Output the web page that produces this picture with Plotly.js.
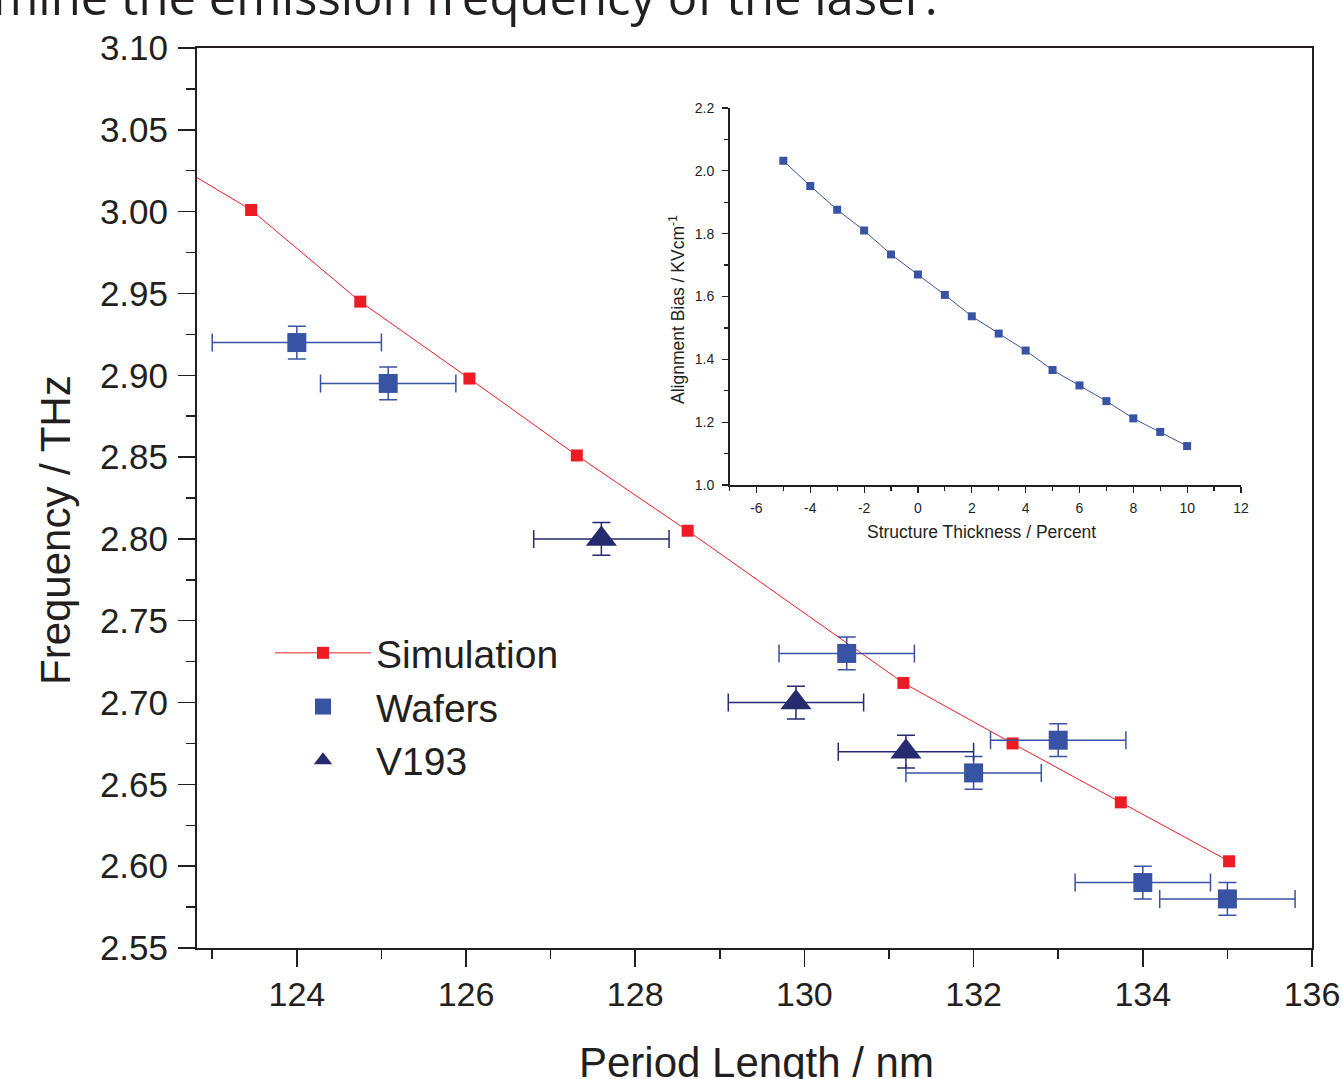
<!DOCTYPE html>
<html>
<head>
<meta charset="utf-8">
<script src="https://cdn.plot.ly/plotly-3.0.1.min.js"></script>
<style>html,body{margin:0;padding:0;background:#fff;}#chart{width:1342px;height:1079px;}</style>
</head>
<body>
<div id="chart"></div>
<script>
// ---- Main chart data ----
// Simulation (first point lies left of the visible axis range; line runs off the left edge)
const simX = [122.2, 123.46, 124.75, 126.04, 127.31, 128.62, 131.17, 132.46, 133.74, 135.02];
const simY = [3.040, 3.001, 2.945, 2.898, 2.851, 2.805, 2.712, 2.675, 2.639, 2.603];

const wafersX = [124.0, 125.08, 130.5, 132.0, 133.0, 134.0, 135.0];
const wafersY = [2.920, 2.895, 2.730, 2.657, 2.677, 2.590, 2.580];
const wafersXErr = [1.0, 0.8, 0.8, 0.8, 0.8, 0.8, 0.8];
const wafersYErr = [0.01, 0.01, 0.01, 0.01, 0.01, 0.01, 0.01];

const v193X = [127.6, 129.9, 131.2];
const v193Y = [2.800, 2.700, 2.670];
const v193XErr = [0.8, 0.8, 0.8];
const v193YErr = [0.01, 0.01, 0.01];

// ---- Inset data ----
const thicknessX = [-5, -4, -3, -2, -1, 0, 1, 2, 3, 4, 5, 6, 7, 8, 9, 10];
const biasY = [2.032, 1.952, 1.876, 1.810, 1.734, 1.670, 1.605, 1.537, 1.482, 1.428, 1.366, 1.317, 1.267, 1.212, 1.169, 1.124];

// ---- Tick labels ----
const insetXTickVals = [-6, -4, -2, 0, 2, 4, 6, 8, 10, 12];
const insetXTickText = ['-6', '-4', '-2', '0', '2', '4', '6', '8', '10', '12'];

// ---- Text ----
const mainXTitle = 'Period Length / nm';
const mainYTitle = 'Frequency / THz';
const insetXTitle = 'Structure Thickness / Percent';
const insetYTitle = 'Alignment Bias / KVcm<sup>-1</sup>';
const pageText = 'mine the emission frequency of the laser.';

const RED = '#ed1c24';
const BLUE = '#3953a4';
const NAVY = '#262a6e';
const INK = '#231f20';
const FONT = 'Liberation Sans, Arial, sans-serif';

const traces = [
  {
    x: simX, y: simY, type: 'scatter', mode: 'lines+markers', name: 'Simulation',
    line: {color: RED, width: 1},
    marker: {symbol: 'square', size: 12, color: RED},
    xaxis: 'x', yaxis: 'y'
  },
  {
    x: wafersX, y: wafersY, type: 'scatter', mode: 'markers', name: 'Wafers',
    marker: {symbol: 'square', size: 19, color: BLUE},
    error_x: {type: 'data', array: wafersXErr, visible: true, color: BLUE, thickness: 1.5, width: 9},
    error_y: {type: 'data', array: wafersYErr, visible: true, color: BLUE, thickness: 1.5, width: 9},
    xaxis: 'x', yaxis: 'y'
  },
  {
    x: v193X, y: v193Y, type: 'scatter', mode: 'markers', name: 'V193',
    marker: {symbol: 'triangle-up', size: 27, color: NAVY},
    error_x: {type: 'data', array: v193XErr, visible: true, color: NAVY, thickness: 1.5, width: 9},
    error_y: {type: 'data', array: v193YErr, visible: true, color: NAVY, thickness: 1.5, width: 9},
    xaxis: 'x', yaxis: 'y'
  },
  {
    x: thicknessX, y: biasY, type: 'scatter', mode: 'lines+markers', name: 'Alignment bias',
    showlegend: false,
    line: {color: BLUE, width: 1},
    marker: {symbol: 'square', size: 8, color: BLUE},
    xaxis: 'x2', yaxis: 'y2'
  }
];

// pixel helpers for annotation placement (plot area 197..1312 x 48..948)
const PX = p => (p - 197) / 1115;
const PY = p => (948 - p) / 900;

const layout = {
  width: 1342, height: 1079,
  margin: {l: 197, r: 30, t: 48, b: 131, pad: 0},
  paper_bgcolor: '#ffffff', plot_bgcolor: '#ffffff',
  font: {family: FONT, color: INK},
  showlegend: true,
  legend: {
    x: PX(270), y: PY(621), xanchor: 'left', yanchor: 'top',
    bgcolor: 'rgba(0,0,0,0)', borderwidth: 0,
    font: {family: FONT, size: 39, color: INK},
    itemwidth: 96, tracegroupgap: 0, traceorder: 'normal'
  },
  xaxis: {
    domain: [0, 1], range: [122.82, 136], anchor: 'y',
    showline: true, linecolor: INK, linewidth: 2, mirror: true,
    showgrid: false, zeroline: false,
    ticks: 'outside', ticklen: 17, tickwidth: 1.5, tickcolor: INK,
    tick0: 124, dtick: 2, ticklabelstandoff: -2,
    tickfont: {family: FONT, size: 34, color: INK},
    minor: {ticks: 'outside', ticklen: 9, tickwidth: 1.5, tickcolor: INK, dtick: 1, tick0: 123, showgrid: false}
  },
  yaxis: {
    domain: [0, 1], range: [2.55, 3.10], anchor: 'x',
    showline: true, linecolor: INK, linewidth: 2, mirror: true,
    showgrid: false, zeroline: false,
    ticks: 'outside', ticklen: 17, tickwidth: 1.5, tickcolor: INK,
    tick0: 2.55, dtick: 0.05, tickformat: '.2f', ticklabelstandoff: 3,
    tickfont: {family: FONT, size: 35, color: INK},
    minor: {ticks: 'outside', ticklen: 9, tickwidth: 1.5, tickcolor: INK, dtick: 0.025, showgrid: false}
  },
  xaxis2: {
    domain: [PX(729.5), PX(1241)], range: [-7, 12], anchor: 'y2',
    showline: true, linecolor: INK, linewidth: 1.5, mirror: false,
    showgrid: false, zeroline: false,
    ticks: 'outside', ticklen: 6, tickwidth: 1.2, tickcolor: INK,
    tickmode: 'array', tickvals: insetXTickVals, ticktext: insetXTickText, ticklabelstandoff: 4,
    tickfont: {family: FONT, size: 14, color: INK},
    minor: {ticks: 'outside', ticklen: 4, tickwidth: 1.2, tickcolor: INK, dtick: 1, showgrid: false}
  },
  yaxis2: {
    domain: [PY(485), PY(108)], range: [1.0, 2.2], anchor: 'x2',
    showline: true, linecolor: INK, linewidth: 1.5, mirror: false,
    showgrid: false, zeroline: false,
    ticks: 'outside', ticklen: 6, tickwidth: 1.2, tickcolor: INK,
    tick0: 1.0, dtick: 0.2, tickformat: '.1f', ticklabelstandoff: 5,
    tickfont: {family: FONT, size: 14, color: INK},
    minor: {ticks: 'outside', ticklen: 4, tickwidth: 1.2, tickcolor: INK, dtick: 0.1, showgrid: false}
  },
  annotations: [
    {text: mainXTitle, xref: 'paper', yref: 'paper', x: PX(756), y: PY(1062),
     xanchor: 'center', yanchor: 'middle', showarrow: false,
     font: {family: FONT, size: 42, color: INK}},
    {text: mainYTitle, xref: 'paper', yref: 'paper', x: PX(55), y: PY(530),
     xanchor: 'center', yanchor: 'middle', showarrow: false, textangle: -90,
     font: {family: FONT, size: 42, color: INK}},
    {text: insetXTitle, xref: 'paper', yref: 'paper', x: PX(981), y: PY(532),
     xanchor: 'center', yanchor: 'middle', showarrow: false,
     font: {family: FONT, size: 17.5, color: INK}},
    {text: insetYTitle, xref: 'paper', yref: 'paper', x: PX(677), y: PY(310),
     xanchor: 'center', yanchor: 'middle', showarrow: false, textangle: -90,
     font: {family: FONT, size: 17.5, color: INK}},
    {text: pageText, xref: 'paper', yref: 'paper', x: PX(940), y: PY(-4),
     xanchor: 'right', yanchor: 'middle', showarrow: false,
     font: {family: 'Open Sans, Noto Sans, sans-serif', size: 49, color: INK}}
  ]
};

Plotly.newPlot('chart', traces, layout, {displayModeBar: false, staticPlot: true});
</script>
</body>
</html>
